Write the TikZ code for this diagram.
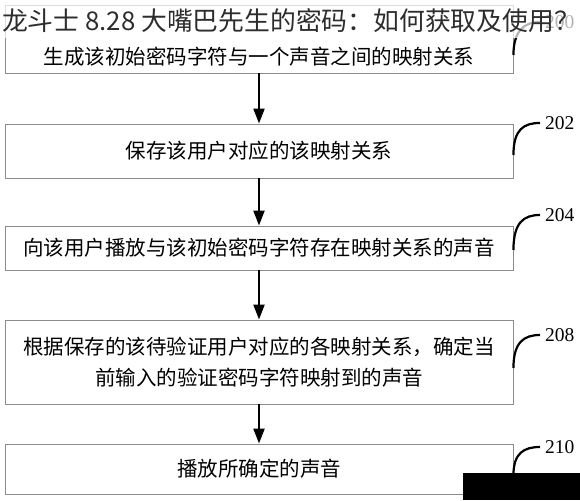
\documentclass[tikz,border=0pt]{standalone}
\usepackage{fontspec}
\setmainfont{Liberation Serif}
\newfontfamily\cjk{Noto Sans CJK SC}
\usepackage{tikz}
\definecolor{boxline}{RGB}{140, 140, 140}
\definecolor{titlegray}{RGB}{45, 45, 45}
\usetikzlibrary{positioning}
\usetikzlibrary{arrows.meta}

\begin{document}
\begin{tikzpicture}[x=1pt, y=-1pt,
  every node/.style={inner sep=0pt},
  stepbox/.style={draw=boxline, line width=0.9pt, minimum width=508pt, align=center, font=\cjk\fontsize{20.5}{31}\selectfont},
  steptext/.style={font=\cjk\fontsize{20.5}{31}\selectfont},
  steplabel/.style={anchor=west, inner xsep=5pt, font=\fontsize{19.5}{19.5}\selectfont},
  flow/.style={line width=2.2pt, -{Triangle[length=15pt, width=11pt]}},
  hook/.style={line width=2.2pt}]
\useasboundingbox (0,0) rectangle (580,500);
\node (200) [stepbox, minimum height=68pt] at (259, 39)  {};
\node (t200) [steptext] at (259, 57)  {生成该初始密码字符与一个声音之间的映射关系};
\node (202) [stepbox, minimum height=54pt] at (259, 151)  {保存该用户对应的该映射关系};
\node (204) [stepbox, minimum height=44pt] at (259, 248)  {向该用户播放与该初始密码字符存在映射关系的声音};
\node (208) [stepbox, minimum height=84pt] at (259, 362)  {根据保存的该待验证用户对应的各映射关系，确定当\\前输入的验证密码字符映射到的声音};
\node (210) [stepbox, minimum height=50pt] at (259, 469)  {播放所确定的声音};
\node (l200) [steplabel] at (540, 22)  {200};
\node (l202) [steplabel] at (540, 123)  {202};
\node (l204) [steplabel] at (540, 215)  {204};
\node (l208) [steplabel] at (540, 335)  {208};
\node (l210) [steplabel] at (540, 447)  {210};
\draw [flow] (200) to (202);
\draw [flow] (202) to (204);
\draw [flow] (204) to (208);
\draw [flow] (208) to (210);
\draw [hook] (200.east) ++(0,16) .. controls +(0,-24) and +(-16,0) .. (l200.west);
\draw [hook] (202.east) ++(0,4) .. controls +(0,-26) and +(-16,0) .. (l202.west);
\draw [hook] (204.east) ++(0,2) .. controls +(0,-28) and +(-16,0) .. (l204.west);
\draw [hook] (208.east) ++(0,6) .. controls +(0,-26) and +(-16,0) .. (l208.west);
\draw [hook] (210.east) ++(0,6) .. controls +(0,-22) and +(-16,0) .. (l210.west);
% overlay band and title
\fill [white, opacity=0.7] (0,0) rectangle (580,38);
\node (title) [font=\cjk\fontsize{25.8}{26}\selectfont, color=titlegray] at (291, 21)  {龙斗士 8.28 大嘴巴先生的密码：如何获取及使用？};
\fill [black] (463,473) rectangle (580,500);
\end{tikzpicture}
\end{document}
